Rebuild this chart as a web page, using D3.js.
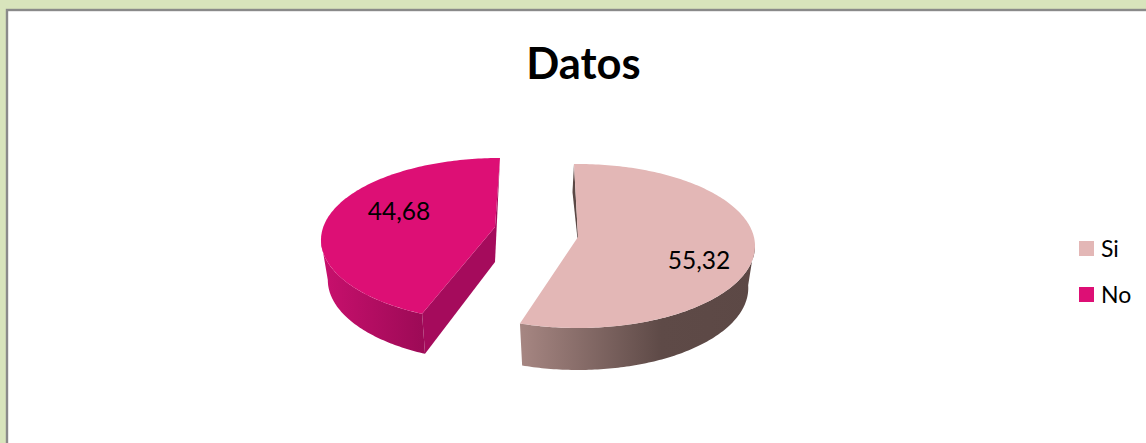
<!DOCTYPE html>
<html><head><meta charset="utf-8">
<script src="https://cdn.jsdelivr.net/npm/d3@7/dist/d3.min.js"></script>
<style>html,body{margin:0;padding:0;background:#d8e4bc}svg{display:block}text{font-family:Lato,"Open Sans",sans-serif;fill:#000}</style>
</head><body><svg id="c" width="1146" height="443"></svg>
<script>
const title = "Datos";
const categories = ["Si", "No"];
const values = [55.32, 44.68];
const labels = ["55,32", "44,68"];

const colors = {Si:"#e3b7b6", No:"#dd0f75"};
const sideStops = {
  Si:[["0","#a68682"],["0.6","#5e4a47"],["1","#5c4845"]],
  No:[["0","#c8106d"],["1","#9c0a56"]]
};
const cutColor = {Si:"#5b4845", No:"#a50b5c"};
// slice geometry in the tilted view; skew = small per-slice perspective shift of the pie angles
const geo = {
  Si:{cx:578, cy:246, rx:177, ry:82, apex:[578,237], skewStart:-1.3, skewEnd:0, depth:42, lx:699, ly:261},
  No:{cx:500, cy:240, rx:179, ry:82, apex:[495,227], skewStart:6.65, skewEnd:0, depth:40, lx:399, ly:212}
};
const shrink = 0.962;

const svg = d3.select("#c");
svg.append("rect").attr("x",7).attr("y",10).attr("width",1160).attr("height",460)
  .attr("fill","#fff").attr("stroke","#8a8a8a").attr("stroke-width",2.4);
svg.append("text").attr("x",583.5).attr("y",79).attr("text-anchor","middle")
  .attr("font-size",43.5).attr("font-weight",700).text(title);

const defs = svg.append("defs");
const pie = d3.pie().sort(null).value(d=>d.v);
const arcs = pie(categories.map((c,i)=>({c,v:values[i],l:labels[i]})));
const line = d3.line();
const deg = d3.scaleLinear().domain([0,2*Math.PI]).range([0,360]);

function pt(g,a,bottom){
  const r=a*Math.PI/180, k=bottom?shrink:1, dy=bottom?g.depth:0;
  return [g.cx+g.rx*k*Math.sin(r), g.cy-g.ry*Math.cos(r)+dy];
}
function sweep(g,a,b,bottom){
  const n=Math.max(2,Math.ceil(Math.abs(b-a)));
  return d3.range(n+1).map(i=>pt(g,a+(b-a)*i/n,bottom));
}

arcs.forEach(d=>{
  const c=d.data.c, g=geo[c];
  const a0=deg(d.startAngle)+g.skewStart, a1=deg(d.endAngle)+g.skewEnd;
  const layer=svg.append("g");
  const id="side"+c;
  const grad=defs.append("linearGradient").attr("id",id).attr("gradientUnits","userSpaceOnUse");
  if(c==="Si"){grad.attr("x1",521).attr("x2",755)}else{grad.attr("x1",322).attr("x2",425)}
  grad.attr("y1",0).attr("y2",0);
  sideStops[c].forEach(s=>grad.append("stop").attr("offset",s[0]).attr("stop-color",s[1]));

  if(c==="Si"){
    const top=sweep(g,88,a1,false), bot=sweep(g,88,a1,true).reverse();
    layer.append("path").attr("d",line(top.concat(bot))+"Z").attr("fill",`url(#${id})`);
    const s=pt(g,a0,false);
    layer.append("path").attr("d",line([s,[s[0]-1.5,s[1]+28],[g.apex[0]-0.5,g.apex[1]+2],g.apex])+"Z").attr("fill",cutColor[c]);
  } else {
    const top=sweep(g,a0,270,false), bot=sweep(g,a0,270,true).reverse();
    const e=pt(g,a0,false), e2=pt(g,a0,true);
    layer.append("path").attr("d",line([e,g.apex,[g.apex[0],g.apex[1]+35],e2])+"Z").attr("fill",cutColor[c]);
    layer.append("path").attr("d",line(top.concat(bot))+"Z").attr("fill",`url(#${id})`);
    const s=pt(g,a1,false);
    layer.append("path").attr("d",line([s,[s[0]-5,s[1]+104],[g.apex[0],g.apex[1]]])+"Z").attr("fill",cutColor[c]);
  }
  layer.append("path").attr("d",line(sweep(g,a0,a1,false).concat([g.apex]))+"Z").attr("fill",colors[c]);
  layer.append("text").attr("x",g.lx).attr("y",g.ly+8).attr("text-anchor","middle")
    .attr("font-size",24.5).text(d.data.l);
});

const legend=d3.scaleBand().domain(categories).range([226,318]);
categories.forEach(c=>{
  const y=legend(c)+legend.bandwidth()/2;
  svg.append("rect").attr("x",1079).attr("y",y-8).attr("width",15).attr("height",15).attr("fill",colors[c]);
  svg.append("text").attr("x",1101).attr("y",y+8).attr("font-size",23).text(c);
});
</script></body></html>
